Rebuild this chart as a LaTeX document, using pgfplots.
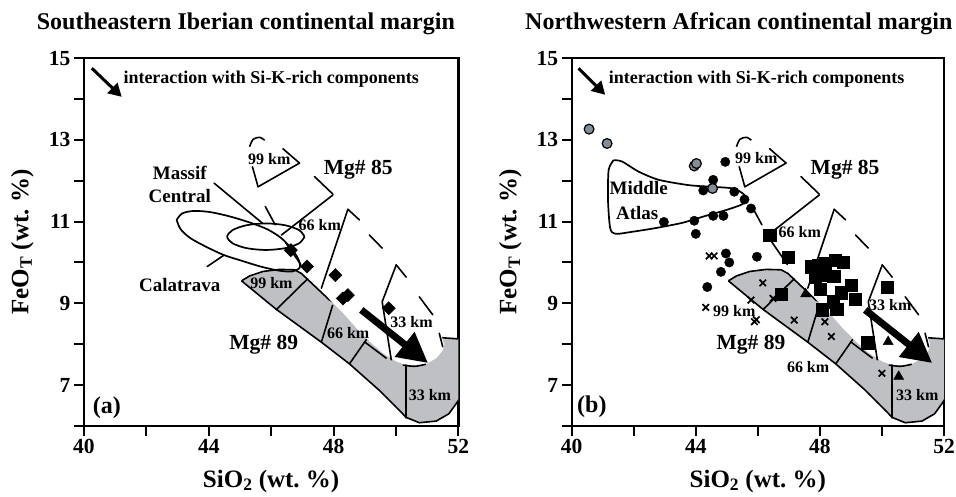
\documentclass[border=0pt]{standalone}
\usepackage{pgfplots}
\pgfplotsset{compat=1.18}
\usepackage{fontspec}
\setmainfont{Liberation Serif}
\usetikzlibrary{arrows.meta}
\definecolor{bandgray}{RGB}{190,192,196}
\definecolor{ptgray}{RGB}{130,142,152}
\newcommand{\fs}[1]{\fontsize{#1}{#1}\selectfont\bfseries}
\newcommand{\seg}[1]{\addplot[black, line width=1.6pt, line cap=round, line join=round] coordinates {#1};}

\pgfplotsset{
  panel/.style={
    scale only axis, height=368pt,
    xmin=40,xmax=52,ymin=6,ymax=15,
    xtick={40,42,...,52}, xticklabels={40,,44,,48,,52},
    ytick={6,7,...,15}, yticklabels={,7,,9,,11,,13,,15},
    tick align=outside, xtick pos=bottom, ytick pos=left,
    major tick length=10pt,
    tick style={line width=2pt, black},
    axis line style={line width=2.4pt},
    ticklabel style={font=\fs{21.5}},
    /pgf/number format/assume math mode=true,
    xlabel={SiO\textsubscript{2} (wt.\ \%)},
    ylabel={FeO\textsubscript{T} (wt.\ \%)},
    label style={font=\fs{25}},
    xlabel style={at={(axis description cs:0.5,-0.15)}, anchor=center},
    ylabel style={at={(axis description cs:-0.165,0.5)}, anchor=center},
  }
}

% shared Mg# 89 (gray) and Mg# 85 (dashed, white) bands
\newcommand{\commonbands}{%
 \addplot[fill=bandgray, draw=black, line width=1.6pt, line join=round] coordinates {
 (45.05,9.55) (45.31,9.67) (45.74,9.78) (46.27,9.83) (46.75,9.82) (46.97,9.73) (47.87,9.08)
 (48.5,8.9) (49.5,8.4) (50.5,8.0) (51.45,8.16) (52.2,8.12) (52.4,7.6) (52.25,7.0)
 (52.0,6.62) (51.7,6.30) (51.29,6.12) (50.75,6.08) (50.33,6.21) (50.01,6.46) (49.47,6.87)
 (48.51,7.52) (47.61,8.05) (46.17,8.85) (45.05,9.55)};
 \addplot[fill=white, draw=none] coordinates {
 (45.31,12.83) (45.42,13.01) (45.63,13.06) (45.79,12.99) (46.38,12.78) (46.91,12.43)
 (47.39,12.10) (47.98,11.67) (48.46,11.30) (48.83,11.04) (49.15,10.67) (49.56,10.35)
 (50.01,9.94) (50.33,9.64) (50.75,9.16) (51.18,8.72) (51.42,8.3) (51.55,8.0) (51.5,7.85)
 (51.3,7.66) (50.97,7.52) (50.65,7.47) (50.33,7.49) (50.01,7.58) (49.59,7.78) (49.17,8.06)
 (48.74,8.39) (48.31,8.76) (47.87,9.10) (47.5,9.48) (47.07,9.86) (46.65,10.27)
 (46.11,10.92) (45.79,11.36) (45.58,11.85) (45.40,12.34) (45.31,12.83)};
 % gray band partitions
 \seg{(46.17,8.85) (47.17,9.60)}
 \seg{(47.61,8.05) (47.97,8.95)}
 \seg{(48.51,7.52) (49.05,8.11)}
 \seg{(50.33,6.20) (50.33,7.49)}
 % Mg# 85 band partitions
 \seg{(45.58,11.85) (46.91,12.43)}
 \seg{(46.33,10.67) (47.98,11.65)}
 \seg{(47.61,9.37) (48.46,11.30)}
 \seg{(49.85,7.62) (49.56,9.04) (50.01,9.94)}
 % Mg# 85 band dashed outline
 \addplot[black, line width=1.6pt, smooth] coordinates {(45.31,12.83) (45.42,13.01) (45.63,13.06) (45.79,12.99)};
 \seg{(45.40,12.34) (45.58,11.85)}
 \seg{(46.38,12.78) (46.91,12.43)}
 \seg{(47.39,12.10) (47.98,11.67)}
 \seg{(48.46,11.30) (48.83,11.04)}
 \seg{(49.15,10.67) (49.56,10.35)}
 \seg{(50.01,9.94) (50.33,9.64)}
 \seg{(50.75,9.16) (51.18,8.72)}
 \seg{(51.39,8.27) (51.50,7.94)}
 \addplot[black, line width=1.6pt, smooth] coordinates {(50.22,7.49) (50.6,7.46) (50.96,7.51)};
 \seg{(48.99,8.06) (49.69,7.66)}
 \seg{(46.45,10.50) (46.95,9.95)}
 \seg{(45.81,11.37) (46.13,10.92)}
}

\begin{document}
\begin{tikzpicture}
\useasboundingbox (0,0) rectangle (956pt,496pt);
\node[font=\fs{24}, anchor=base west, inner sep=0] at (36.7pt,466.7pt) {Southeastern Iberian continental margin};
\node[font=\fs{24}, anchor=base west, inner sep=0] at (525pt,466.7pt) {Northwestern African continental margin};

% ---------------- panel (a)
\begin{axis}[panel, at={(84pt,70pt)}, anchor=south west, width=374.3pt]
 \commonbands
 % Massif Central ellipse
 \addplot[black, line width=1.7pt, smooth] coordinates {
 (47.07,10.63) (46.90,10.79) (46.45,10.91) (45.83,10.955) (45.21,10.91) (44.76,10.79)
 (44.59,10.63) (44.76,10.47) (45.21,10.35) (45.83,10.305) (46.45,10.35) (46.90,10.47) (47.07,10.63)};
 % Calatrava field
 \addplot[black, line width=1.7pt, smooth] coordinates {
 (42.97,11.04) (43.15,11.20) (43.53,11.26) (44.06,11.23) (44.70,11.12) (45.34,10.97)
 (45.88,10.81) (46.30,10.61) (46.62,10.37) (46.86,10.10) (46.92,9.88) (46.68,9.78)
 (46.25,9.80) (45.66,9.90) (45.02,10.05) (44.49,10.18) (43.95,10.37) (43.42,10.59)
 (43.10,10.81) (42.97,11.04)};
 \seg{(44.17,11.94) (45.72,10.96)}
 \seg{(43.95,9.90) (44.49,10.18)}
 % diamonds
 \addplot[only marks, mark=square*, mark size=4.7pt, mark options={rotate=45, fill=black, draw=black}] coordinates {
 (46.63,10.30) (47.15,9.90) (48.06,9.69) (48.30,9.12) (48.46,9.20) (49.77,8.88)};
 % arrows
 \addplot[line width=7pt, -{Triangle[length=30pt,width=30pt]}] coordinates {(48.89,8.84) (51.03,7.54)};
 \addplot[line width=3pt, -{Triangle[length=13pt,width=14pt]}] coordinates {(40.25,14.75) (41.21,14.05)};
 % text
 \node[font=\fs{18}, anchor=west, inner sep=0] at (axis cs:41.26,14.48) {interaction with Si-K-rich components};
 \node[font=\fs{16}] at (axis cs:46.01,9.49) {99 km};
 \node[font=\fs{16}] at (axis cs:48.47,8.27) {66 km};
 \node[font=\fs{16}] at (axis cs:51.09,6.76) {33 km};
 \node[font=\fs{16}] at (axis cs:45.94,12.52) {99 km};
 \node[font=\fs{16}] at (axis cs:47.56,10.92) {66 km};
 \node[font=\fs{16}] at (axis cs:50.50,8.55) {33 km};
 \node[font=\fs{21.5}] at (axis cs:48.79,12.26) {Mg\# 85};
 \node[font=\fs{21.5}] at (axis cs:45.76,7.98) {Mg\# 89};
 \node[font=\fs{19}] at (axis cs:43.07,12.20) {Massif};
 \node[font=\fs{19}] at (axis cs:43.07,11.63) {Central};
 \node[font=\fs{19}] at (axis cs:43.07,9.45) {Calatrava};
 \node[font=\fs{24}] at (axis cs:40.73,6.44) {(a)};
\end{axis}

% ---------------- panel (b)
\begin{axis}[panel, at={(571.7pt,70pt)}, anchor=south west, width=372.3pt]
 \commonbands
 % Middle Atlas field
 \addplot[black, line width=1.7pt, smooth, tension=0.45] coordinates {
 (41.35,12.50) (41.62,12.47) (42.16,12.22) (42.81,12.02) (43.78,11.89) (44.54,11.85)
 (45.19,11.81) (45.51,11.69) (45.68,11.53) (45.46,11.41) (44.97,11.28) (44.32,11.14)
 (43.57,10.97) (42.70,10.84) (41.95,10.75) (41.41,10.70) (41.24,10.84) (41.17,11.53)
 (41.19,12.26) (41.35,12.50)};
 % crosses
 \addplot[only marks, mark=x, mark size=4.6pt, mark options={line width=1.7pt, black}] coordinates {
 (44.43,10.16) (44.59,10.16) (44.32,8.90) (45.89,8.55) (45.95,8.60) (45.78,9.08)
 (46.16,9.50) (46.49,9.12) (47.17,8.59) (48.16,8.55) (48.37,8.19) (50.00,7.29)};
 % black circles
 \addplot[only marks, mark=*, mark size=4.7pt, mark options={fill=black, draw=black}] coordinates {
 (44.95,12.46) (44.56,12.02) (44.24,11.76) (45.24,11.73) (45.57,11.54) (45.78,11.32)
 (42.97,10.99) (43.95,11.02) (44.56,11.14) (44.89,11.14) (44.00,10.70) (44.97,10.22)
 (45.08,10.00) (44.81,9.77) (44.37,9.40) (45.97,10.14)};
 % gray circles
 \addplot[only marks, mark=*, mark size=4.9pt, mark options={fill=ptgray, draw=black, line width=1.2pt}] coordinates {
 (40.56,13.26) (41.14,12.91) (43.95,12.36) (44.02,12.42) (44.54,11.81)};
 % squares
 \addplot[only marks, mark=square*, mark size=6.2pt, mark options={fill=black, draw=black}] coordinates {
 (46.38,10.67) (46.97,10.13) (46.76,9.23) (47.71,9.90) (47.95,9.94) (48.18,9.98)
 (48.49,10.06) (48.76,10.00) (47.84,9.65) (48.14,9.69) (48.45,9.67) (48.00,9.34)
 (48.68,9.26) (49.00,9.45) (49.14,9.10) (48.08,8.84) (48.54,8.86) (48.43,9.04)
 (50.16,9.39) (49.54,8.04)};
 % triangles
 \addplot[only marks, mark=triangle*, mark size=5.8pt, mark options={fill=black, draw=black}] coordinates {
 (47.54,9.23) (50.20,8.06) (50.54,7.21)};
 % arrows
 \addplot[line width=7pt, -{Triangle[length=30pt,width=30pt]}] coordinates {(49.46,8.84) (51.62,7.54)};
 \addplot[line width=3pt, -{Triangle[length=13pt,width=14pt]}] coordinates {(40.22,14.75) (41.08,14.10)};
 % text
 \node[font=\fs{18}, anchor=west, inner sep=0] at (axis cs:41.19,14.48) {interaction with Si-K-rich components};
 \node[font=\fs{16}] at (axis cs:45.95,12.55) {99 km};
 \node[font=\fs{16}] at (axis cs:47.35,10.74) {66 km};
 \node[font=\fs{16}] at (axis cs:50.27,8.96) {33 km};
 \node[font=\fs{16}] at (axis cs:45.24,8.82) {99 km};
 \node[font=\fs{16}] at (axis cs:47.62,7.45) {66 km};
 \node[font=\fs{16}] at (axis cs:51.14,6.76) {33 km};
 \node[font=\fs{21.5}] at (axis cs:48.81,12.26) {Mg\# 85};
 \node[font=\fs{21.5}] at (axis cs:45.78,7.98) {Mg\# 89};
 \node[font=\fs{19}] at (axis cs:42.16,11.81) {Middle};
 \node[font=\fs{19}] at (axis cs:42.11,11.22) {Atlas};
 \node[font=\fs{24}] at (axis cs:40.65,6.46) {(b)};
\end{axis}
\end{tikzpicture}
\end{document}
